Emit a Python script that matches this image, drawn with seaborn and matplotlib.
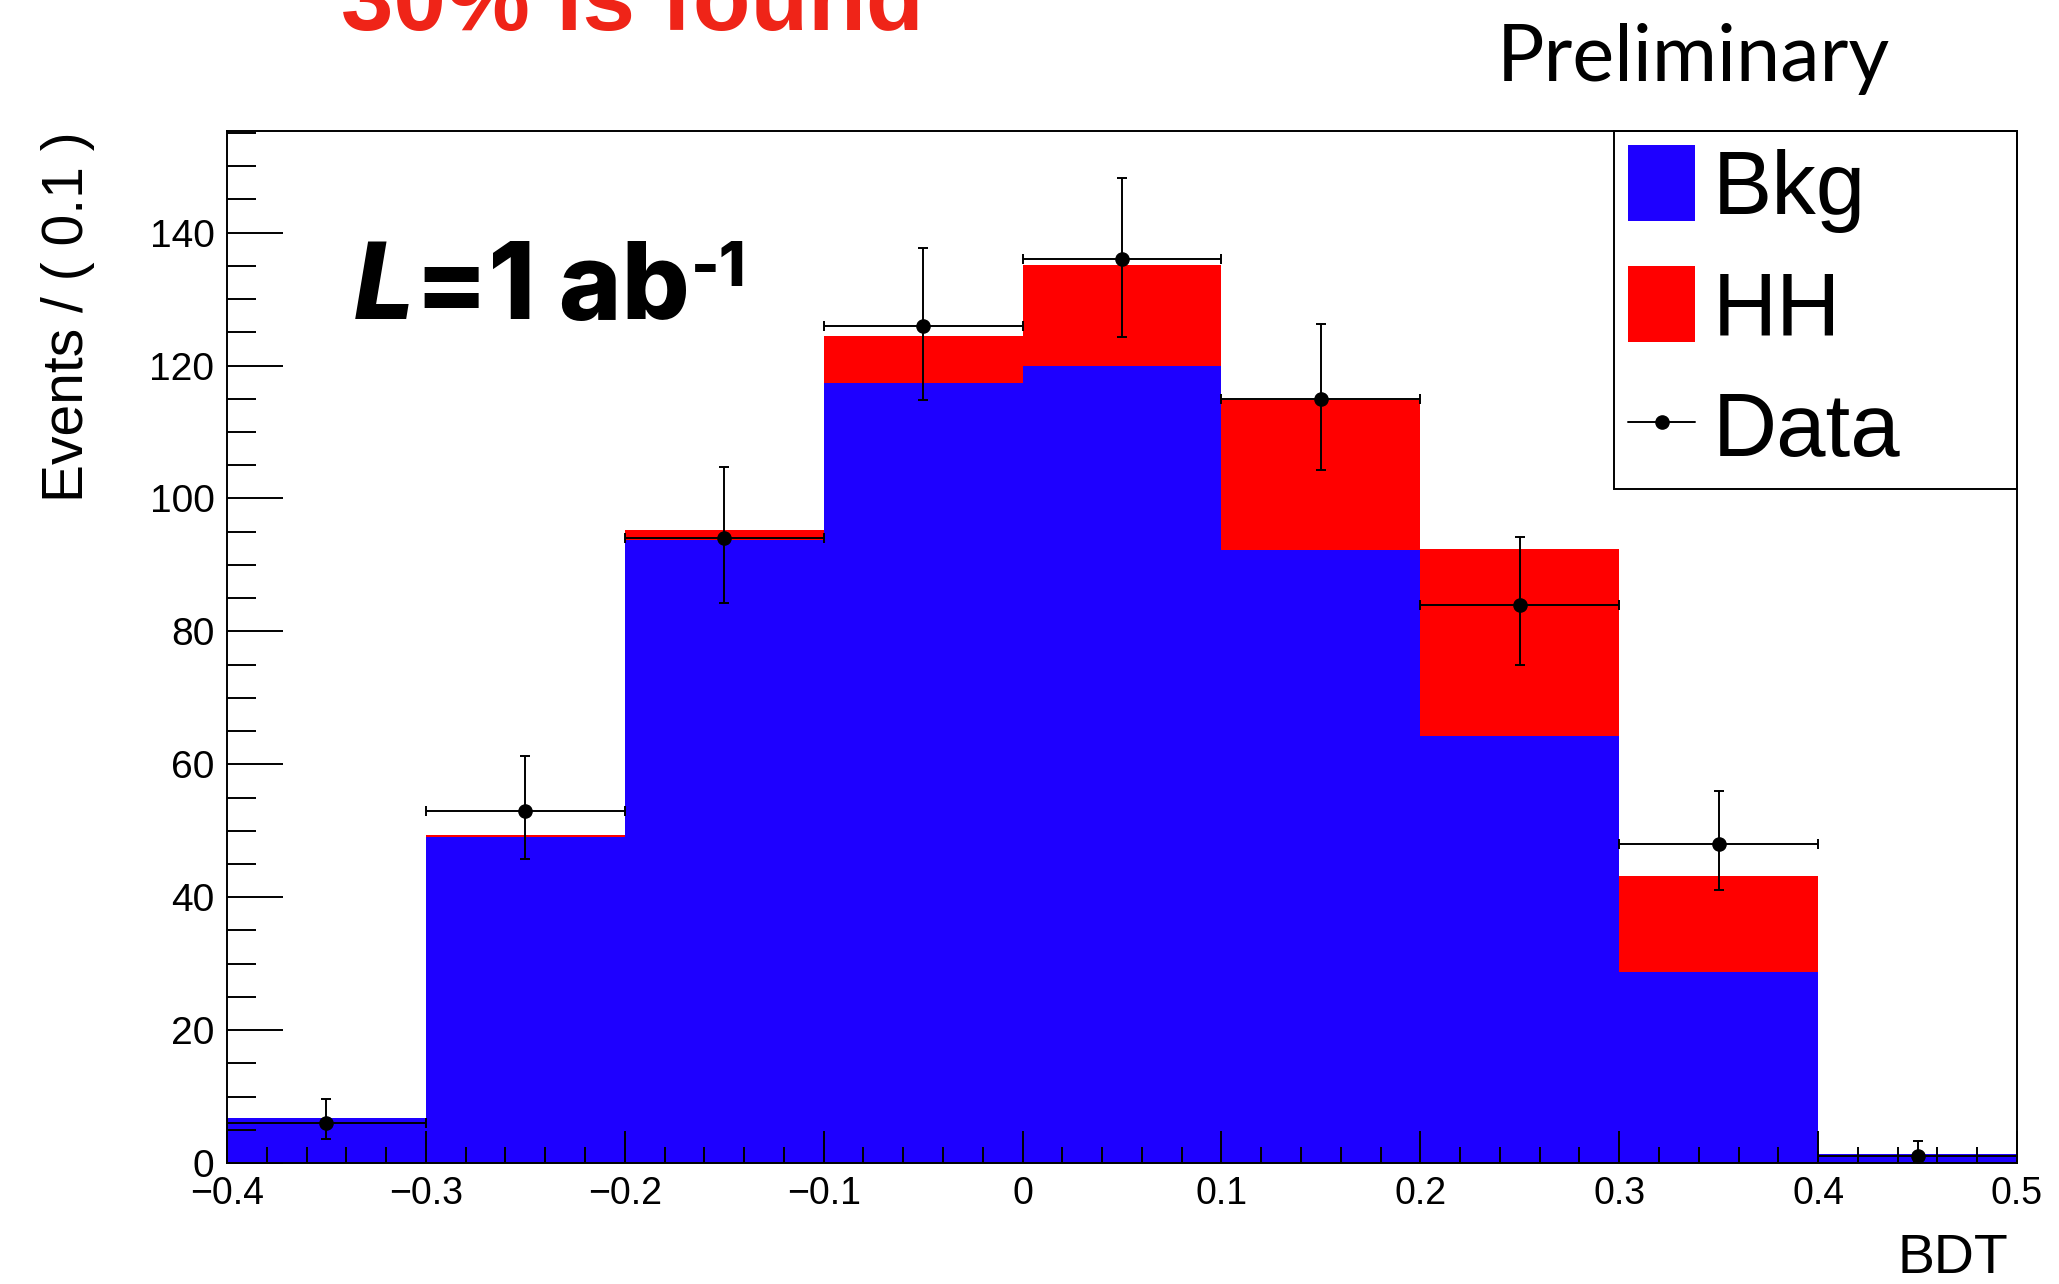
import matplotlib
matplotlib.use("Agg")
from matplotlib import pyplot as plt
from matplotlib.lines import Line2D
from matplotlib.patches import Patch
from matplotlib.ticker import MultipleLocator, FuncFormatter
import pandas as pd
import seaborn as sns

# BDT bins (width 0.1)
bin_edges = [-0.4, -0.3, -0.2, -0.1, 0.0, 0.1, 0.2, 0.3, 0.4, 0.5]
bin_centers = [-0.35, -0.25, -0.15, -0.05, 0.05, 0.15, 0.25, 0.35, 0.45]

# expected yields per bin
bkg = [6.7, 49.0, 93.8, 117.4, 120.0, 92.2, 64.2, 28.8, 1.3]
hh = [0.0, 0.3, 1.4, 7.0, 15.2, 22.6, 28.2, 14.4, 0.0]

# pseudo-data with asymmetric (Poisson) errors
data = [6, 53, 94, 126, 136, 115, 84, 48, 1]
data_err_lo = [2.4, 7.3, 9.7, 11.2, 11.7, 10.7, 9.1, 6.9, 0.8]
data_err_hi = [3.6, 8.3, 10.7, 11.7, 12.2, 11.2, 10.2, 8.0, 2.3]

blue = "#1e00ff"
red = "#ff0000"

sns.set_theme(style="ticks")
plt.rcParams["font.family"] = ["Liberation Sans", "DejaVu Sans"]
plt.rcParams["text.color"] = "black"
plt.rcParams["axes.labelcolor"] = "black"

df = pd.DataFrame({
    "BDT": bin_centers * 2,
    "Events": bkg + hh,
    "sample": ["Bkg"] * len(bkg) + ["HH"] * len(hh),
})

W, H = 2059, 1284
fig = plt.figure(figsize=(W / 100, H / 100), dpi=100)
ax = fig.add_axes([227 / W, 1 - 1163 / H, (2017 - 227) / W, (1163 - 131) / H])

sns.histplot(
    data=df, x="BDT", weights="Events", hue="sample",
    hue_order=["HH", "Bkg"], palette={"Bkg": blue, "HH": red},
    bins=bin_edges, multiple="stack", element="step", fill=True,
    alpha=1, linewidth=0, legend=False, ax=ax,
)

ax.errorbar(
    bin_centers, data, xerr=0.05, yerr=[data_err_lo, data_err_hi],
    fmt="o", color="black", ms=9.5, elinewidth=1.4, capsize=3.5,
    capthick=1.4, zorder=5,
)

ax.set_xlim(-0.4, 0.5)
ax.set_ylim(0, 155.3)
ax.set_axisbelow(False)

ax.xaxis.set_major_locator(MultipleLocator(0.1))
ax.xaxis.set_minor_locator(MultipleLocator(0.02))
ax.yaxis.set_major_locator(MultipleLocator(20))
ax.yaxis.set_minor_locator(MultipleLocator(5))
ax.xaxis.set_major_formatter(FuncFormatter(
    lambda v, p: f"{round(v, 3) + 0.0:g}".replace("-", "\u2212")))

ax.tick_params(axis="both", which="both", direction="in", top=False,
               right=False, width=1.4, color="black", labelcolor="black")
ax.tick_params(axis="y", which="major", length=40, pad=9, labelsize=28)
ax.tick_params(axis="y", which="minor", length=21)
ax.tick_params(axis="x", which="major", length=23, pad=9, labelsize=27)
ax.tick_params(axis="x", which="minor", length=11.5)
for s in ax.spines.values():
    s.set_visible(True)
    s.set_color("black")
    s.set_linewidth(1.4)
    s.set_zorder(6)

ax.set_ylabel("Events / ( 0.1 )", fontsize=41, loc="top")
ax.yaxis.set_label_coords(-0.0735, 1.0)
ax.set_xlabel("BDT", fontsize=40, loc="right")
ax.xaxis.set_label_coords(0.995, -0.068)

handles = [
    Patch(facecolor=blue, edgecolor="none"),
    Patch(facecolor=red, edgecolor="none"),
    Line2D([], [], color="black", lw=1.4, marker="o", ms=9.5),
]
leg_x0 = (1614 - 227) / 1790
leg = ax.legend(
    handles, ["Bkg", "HH", "Data"], loc="upper right",
    bbox_to_anchor=(leg_x0, 0.0, 1.0 - leg_x0, 1.0), mode="expand",
    borderaxespad=0, frameon=True, fancybox=False, edgecolor="black",
    framealpha=1, fontsize=64, handlelength=0.75, handleheight=0.93,
    labelspacing=0.38, handletextpad=0.2, borderpad=0.16,
)
leg.get_frame().set_linewidth(1.4)
for txt in leg.get_texts():
    txt.set_color("black")

# luminosity label
t1 = ax.text(0.071, 0.818, "L", transform=ax.transAxes, fontsize=77,
             style="italic", weight="heavy", family=["Inter", "DejaVu Sans"],
             va="baseline", color="black")
t2 = ax.annotate("=1 ab", xy=(1, 0), xycoords=t1, va="bottom", ha="left",
                 fontsize=77, weight="heavy", family=["Inter", "DejaVu Sans"],
                 color="black")
ax.annotate("-1", xy=(1, 1), xycoords=t2, va="top", ha="left",
            xytext=(1, 0), textcoords="offset points",
            fontsize=44, weight="heavy", family=["Inter", "DejaVu Sans"],
            color="black")

fig.text(1497 / W, 1 - 81 / H, "Preliminary", fontsize=57,
         family=["Lato", "DejaVu Sans"], va="baseline", color="black")
fig.text(341 / W, 1 - 30 / H, "30% is found", fontsize=68, weight="bold",
         color="#ef2418", va="baseline")

fig.savefig("out.png", dpi=100)
